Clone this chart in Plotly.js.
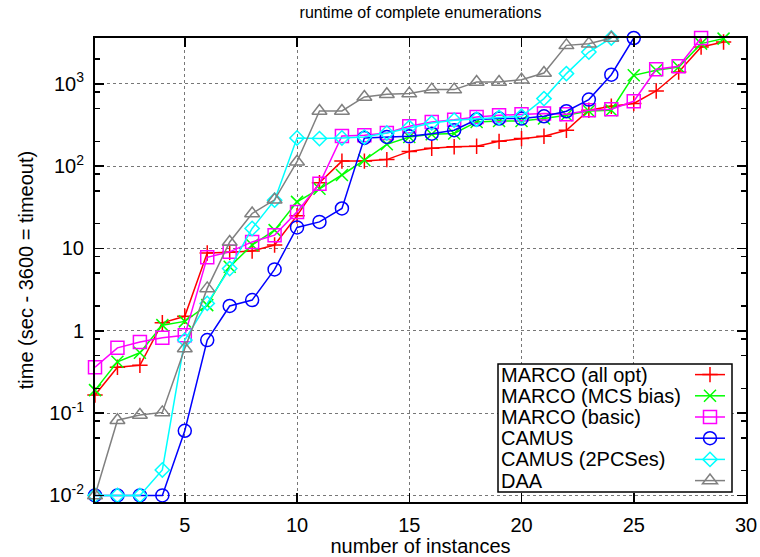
<!DOCTYPE html>
<html>
<head>
<meta charset="utf-8">
<script src="https://cdn.plot.ly/plotly-3.0.1.min.js"></script>
<style>html,body{margin:0;padding:0;background:#fff;}#chart{width:760px;height:557px;}</style>
</head>
<body>
<div id="chart"></div>
<script>
// ---- data ----
const seriesNames = ["MARCO (all opt)", "MARCO (MCS bias)", "MARCO (basic)", "CAMUS", "CAMUS (2PCSes)", "DAA"];
const marcoAllOpt = [0.166,0.36,0.38,1.25,1.5,8.8,9.0,9.3,11,25,63,115,115,120,151,165,172,174,200,216,231,273,478,533,576,818,1390,2800,3215];
const marcoMcsBias = [0.19,0.42,0.54,1.17,1.3,2.05,6.0,11,16.7,36.8,53,78,118,184,226,244,249,344,354,354,378,415,468,478,1268,1458,1600,3075,3540];
const marcoBasic = [0.36,0.62,0.73,0.82,0.88,7.8,9.1,12,14.5,27.8,61,233,237,253,305,344,365,395,415,426,435,426,477,490,613,1500,1630,3600];
const camus = [0.01,0.01,0.01,0.01,0.061,0.77,2.0,2.36,5.56,18,21,30.6,220,226,230,248,273,368,378,378,403,464,643,1290,3600];
const camus2PCSes = [0.01,0.01,0.01,0.0204,0.77,2.15,5.7,17.5,38.6,220,216,220,226,253,294,335,361,371,389,403,661,1330,2430,3600];
const daa = [0.01,0.082,0.095,0.102,0.61,3.27,12,26.6,39,113,468,468,692,746,760,850,850,1052,1052,1123,1350,2930,3075,3600];
const xTickVals = [5,10,15,20,25,30];
const yTickVals = [0.01,0.1,1,10,100,1000];
const yTickText = ["10<sup>-2</sup>","10<sup>-1</sup>","1","10","10<sup>2</sup>","10<sup>3</sup>"];
const yMinorVals = [0.02,0.05,0.08,0.2,0.5,0.8,2,5,8,20,50,80,200,500,800,2000];

// ---- styles ----
const allSeries = [marcoAllOpt, marcoMcsBias, marcoBasic, camus, camus2PCSes, daa];
const colors = ["#ff0000","#00ff00","#ff00ff","#0000ff","#00ffff","#808080"];
const symbols = ["cross-thin","x-thin","square-open","circle-open","diamond-open","triangle-up-open"];
const sizes = [11,12,13,13,11,13];
const FONT = "Liberation Sans, Arial, sans-serif";

const traces = allSeries.map((ys, i) => ({
  type: "scatter",
  mode: "lines+markers",
  x: ys.map((_, k) => k + 1),
  y: ys,
  name: " ",
  cliponaxis: false,
  line: {color: colors[i], width: 1.5},
  marker: {symbol: symbols[i], size: sizes[i], color: colors[i], line: {color: colors[i], width: 1.5}}
}));

const W = 760, H = 557, mL = 95, mR = 14, mT = 38, mB = 55;
const plotW = W - mL - mR, plotH = H - mT - mB;
const px2x = p => (p - mL) / plotW;
const px2y = p => (H - mB - p) / plotH;

const rowTop = 375, rowStep = 21.1;
const annotations = seriesNames.map((n, i) => ({
  text: n, xref: "paper", yref: "paper", x: px2x(499), y: px2y(rowTop + i * rowStep),
  xanchor: "left", yanchor: "middle", showarrow: false,
  font: {family: FONT, size: 20, color: "#000"}
}));

const layout = {
  width: W, height: H,
  margin: {l: mL, r: mR, t: mT, b: mB, pad: 0},
  paper_bgcolor: "#fff", plot_bgcolor: "#fff",
  font: {family: FONT, size: 20, color: "#000"},
  title: {text: "runtime of complete enumerations", font: {family: FONT, size: 16, color: "#000"},
          x: 0.5, xref: "paper", y: 1 - 12 / H, yref: "container", yanchor: "middle"},
  showlegend: true,
  legend: {x: px2x(690), xanchor: "left", y: px2y(359), yanchor: "top",
           bgcolor: "rgba(0,0,0,0)", borderwidth: 0, font: {family: FONT, size: 14},
           tracegroupgap: 0, itemwidth: 30},
  xaxis: {
    range: [1, 30], tickmode: "array", tickvals: xTickVals,
    ticks: "inside", ticklen: 9, tickwidth: 1.5, tickcolor: "#000",
    showline: true, linewidth: 2, linecolor: "#000", mirror: "ticks",
    showgrid: true, gridcolor: "#777", griddash: "dot", gridwidth: 1,
    zeroline: false, ticklabelstandoff: 4,
    tickfont: {family: FONT, size: 20},
    title: {text: "number of instances", font: {family: FONT, size: 20}, standoff: 4}
  },
  yaxis: {
    type: "log", range: [-2.08, Math.log10(3600)],
    tickmode: "array", tickvals: yTickVals, ticktext: yTickText,
    ticks: "inside", ticklen: 9, tickwidth: 1.5, tickcolor: "#000",
    showline: true, linewidth: 2, linecolor: "#000", mirror: "ticks",
    showgrid: true, gridcolor: "#777", griddash: "dot", gridwidth: 1,
    zeroline: false, ticklabelstandoff: 5,
    tickfont: {family: FONT, size: 20},
    minor: {tickmode: "array", tickvals: yMinorVals, ticks: "inside", ticklen: 5, tickwidth: 1.5, tickcolor: "#000", showgrid: false},
    title: {text: "time (sec - 3600 = timeout)", font: {family: FONT, size: 20}, standoff: 10}
  },
  shapes: [{type: "rect", xref: "paper", yref: "paper", x0: px2x(498), x1: px2x(732), y0: px2y(492), y1: px2y(364),
            line: {color: "#000", width: 1.5}, fillcolor: "#fff", layer: "above"}],
  annotations: annotations
};

Plotly.newPlot("chart", traces, layout, {displayModeBar: false, staticPlot: true});
</script>
</body>
</html>
